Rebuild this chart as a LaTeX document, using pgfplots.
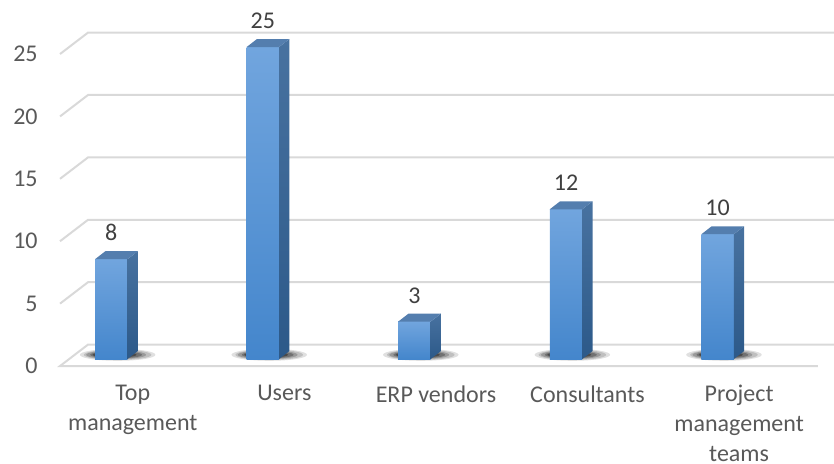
\documentclass[border=0pt]{standalone}
\usepackage{pgfplots}
\pgfplotsset{compat=1.18}
\usepackage{pgfplotstable}
\usepackage{fontspec}
\setmainfont{Carlito}

\definecolor{gridgray}{RGB}{217,217,217}
\definecolor{ticktext}{RGB}{89,89,89}
\definecolor{labeltext}{RGB}{64,64,64}
\definecolor{fronttop}{RGB}{113,165,222}
\definecolor{frontbot}{RGB}{68,134,204}
\definecolor{sidetop}{RGB}{72,114,160}
\definecolor{sidebot}{RGB}{44,89,137}
\definecolor{topface}{RGB}{84,126,174}

% category index, value
\pgfplotstableread{
idx val
0 8
1 25
2 3
3 12
4 10
}\answers

% one 3D column: front face, side face, top face
\newcommand\tdbar[2]{%
  \pgfmathsetmacro\xl{#1-0.269}%
  \pgfmathsetmacro\xr{#1-0.055}%
  \pgfmathsetmacro\xs{#1+0.013}%
  \pgfmathsetmacro\xt{#1-0.201}%
  \pgfmathsetmacro\yt{#2+0.56}%
  \pgfmathsetmacro\ys{#2+1.2}%
  \edef\tmp{%
    \noexpand\addplot[draw=none, top color=fronttop, bottom color=frontbot]
      coordinates {(\xl,0.56) (\xr,0.56) (\xr,\yt) (\xl,\yt)} -- cycle;
    \noexpand\addplot[draw=none, top color=sidetop, bottom color=sidebot]
      coordinates {(\xr,0.56) (\xs,1.2) (\xs,\ys) (\xr,\yt)} -- cycle;
    \noexpand\addplot[draw=none, fill=topface]
      coordinates {(\xl,\yt) (\xr,\yt) (\xs,\ys) (\xt,\ys)} -- cycle;
  }\tmp}

% blurred shadow layer under every column
\newcommand\shadowlayer[4]{%
  \addplot[only marks, mark=*, mark size=#1, draw opacity=0,
    mark options={draw opacity=0, line width=0pt, fill=black, fill opacity=#3, xscale=#2}]
    table[x expr=\thisrow{idx}-#4, y expr=0.9] {\answers};}

\begin{document}
\fontsize{12}{15}\selectfont
\begin{tikzpicture}
\begin{axis}[
    scale only axis,
    width=417pt, height=232pt,
    xmin=-0.896, xmax=4.606,
    ymin=-7.85, ymax=29.33,
    clip mode=individual,
    axis line style={draw=none},
    tick style={draw=none},
    /pgf/number format/assume math mode=true,
    ytick={0,5,10,15,20,25},
    yticklabel style={anchor=east, xshift=23pt, text=ticktext, font=\fontsize{12}{15}\selectfont},
    xtick={-0.02,0.98,1.98,2.98,3.98},
    xticklabels={Top\\management, Users, ERP vendors, Consultants, Project\\management\\teams},
    xticklabel style={anchor=north, align=center, inner sep=1pt, yshift=40.5pt, text=ticktext, font=\fontsize{12}{15}\selectfont},
]
% back wall gridlines with the slanted left wall
\pgfplotsforeachungrouped \v in {5,10,15,20,25}{%
  \pgfmathsetmacro\vb{\v+1.72}%
  \edef\tmp{\noexpand\addplot[gridgray, line width=1pt]
    coordinates {(-0.5,\v) (-0.315,\vb) (4.606,\vb)};}\tmp
}
% floor
\addplot[gridgray, line width=1pt] coordinates {(4.5,0) (-0.5,0) (-0.315,1.72) (4.606,1.72)};

% soft shadows at the column bases
\shadowlayer{3pt}{6.3}{0.12}{0.12}
\shadowlayer{2.6pt}{6.5}{0.15}{0.12}
\shadowlayer{2.2pt}{6.8}{0.2}{0.13}
\shadowlayer{1.8pt}{7.2}{0.26}{0.13}
\shadowlayer{1.4pt}{7.9}{0.35}{0.14}

% columns
\pgfplotsforeachungrouped \i in {0,...,4}{%
  \pgfplotstablegetelem{\i}{val}\of\answers
  \tdbar{\i}{\pgfplotsretval}
}

% value labels
\addplot[draw=none, mark=none, nodes near coords, point meta=explicit,
    nodes near coords style={anchor=south, yshift=1pt, text=labeltext, font=\fontsize{12}{15}\selectfont}]
  table[x expr=\thisrow{idx}-0.162, y expr=\thisrow{val}+1.2, meta=val] {\answers};
\end{axis}
\pgfresetboundingbox
\useasboundingbox (current axis.south west) rectangle (current axis.north east);
\end{tikzpicture}
\end{document}
